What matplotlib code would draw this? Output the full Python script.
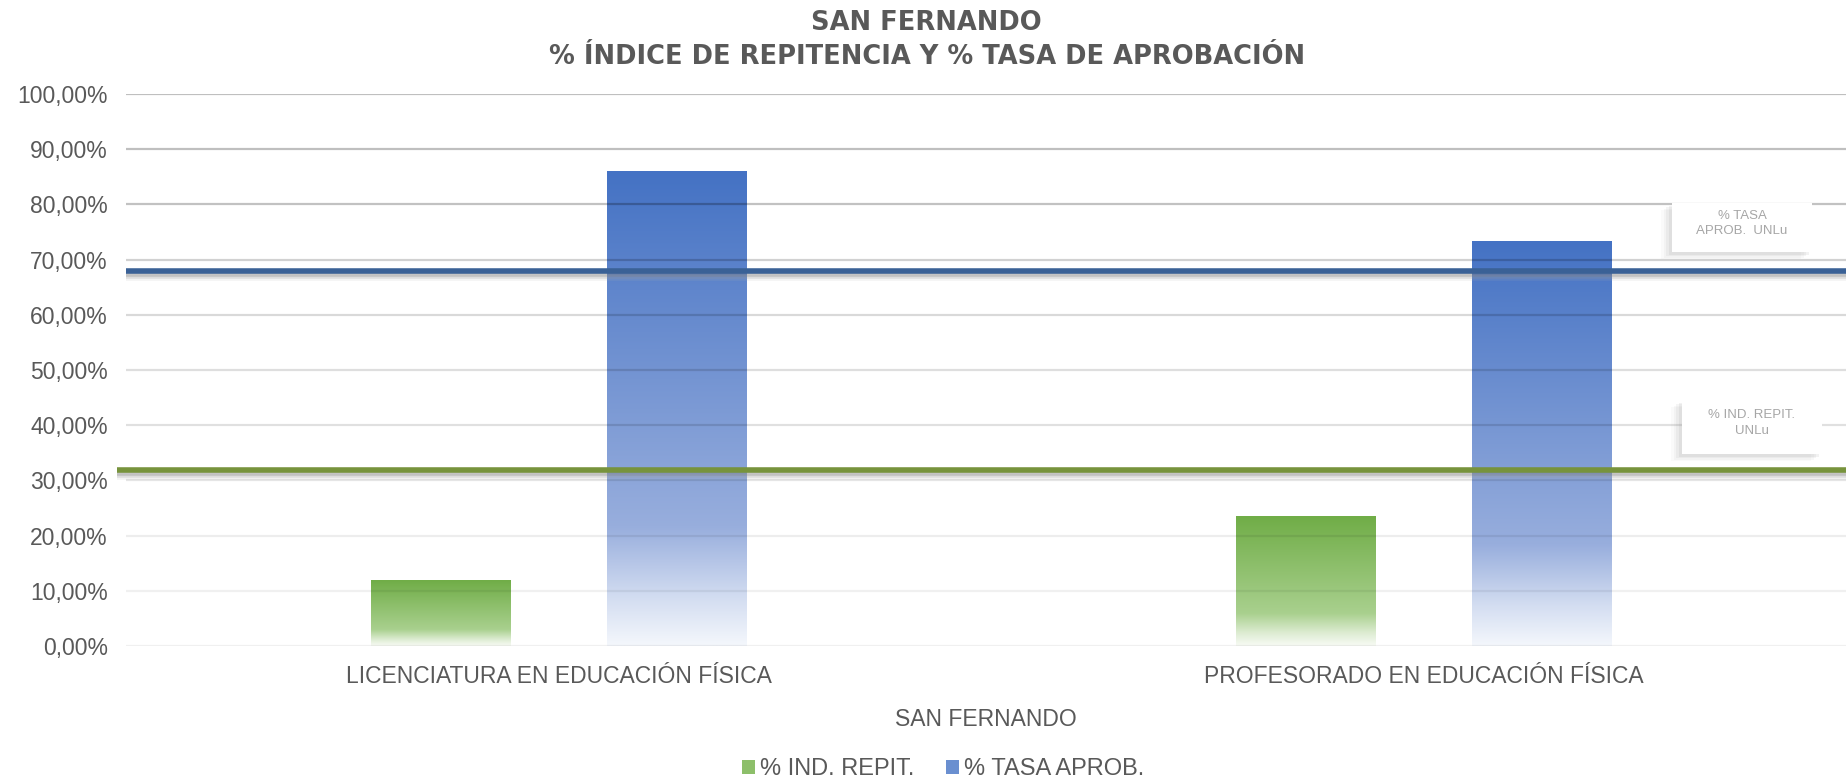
import matplotlib
matplotlib.use("Agg")
import matplotlib.pyplot as plt
import numpy as np
from matplotlib.colors import LinearSegmentedColormap
from matplotlib.patches import Rectangle
import matplotlib.patheffects as pe

plt.rcParams['font.family'] = ['Liberation Sans', 'DejaVu Sans']

# ---- data ----
categories = ['LICENCIATURA EN EDUCACIÓN FÍSICA', 'PROFESORADO EN EDUCACIÓN FÍSICA']
series_names = ['% IND. REPIT.', '% TASA APROB.']
ind_repit = [0.118, 0.234]
tasa_aprob = [0.860, 0.732]
ref_tasa_unlu = 0.679
ref_repit_unlu = 0.319
ref_labels = ['% TASA\nAPROB.  UNLu', '% IND. REPIT.\nUNLu']
yticks = [0.0, 0.1, 0.2, 0.3, 0.4, 0.5, 0.6, 0.7, 0.8, 0.9, 1.0]
title = 'SAN FERNANDO\n% ÍNDICE DE REPITENCIA Y % TASA DE APROBACIÓN'
xlabel = 'SAN FERNANDO'

TXT = '#595959'
FS = 16.5
green_cmap = LinearSegmentedColormap.from_list(
    'g', [(0.0, '#F8FBF5'), (0.1, '#DDECD2'), (0.25, '#A9D08E'), (1.0, '#70AD47')])
blue_cmap = LinearSegmentedColormap.from_list(
    'b', [(0.0, '#F4F7FC'), (0.1, '#D3DDF1'), (0.25, '#98AEDD'), (1.0, '#4472C4')])

W, H = 1846, 782
fig = plt.figure(figsize=(W / 100, H / 100), dpi=100)
ax = fig.add_axes([126 / W, 1 - 646 / H, (W - 126) / W, (646 - 94) / H])

x = np.arange(len(categories))
bw = 0.161
off = 0.136
grad = np.linspace(0, 1, 256).reshape(-1, 1)
for vals, cmap, o in [(ind_repit, green_cmap, -off), (tasa_aprob, blue_cmap, off)]:
    for xi, v in zip(x, vals):
        ax.imshow(grad, cmap=cmap, origin='lower', aspect='auto',
                  extent=[xi + o - bw / 2, xi + o + bw / 2, 0, v], zorder=2,
                  interpolation='bilinear')

# gridlines (fading towards the bottom, drawn over bars)
grid_alpha = [0.06, 0.06, 0.07, 0.1, 0.12, 0.13, 0.15, 0.18, 0.24, 0.25, 0.25]
for yv, a in zip(yticks, grid_alpha):
    ax.axhline(yv, color='black', alpha=a, lw=1.6, zorder=3)

# reference lines with soft shadow
shadow = [pe.SimpleLineShadow(offset=(0, -2), shadow_color='#707070', alpha=0.3),
          pe.SimpleLineShadow(offset=(0, -3.5), shadow_color='#909090', alpha=0.22),
          pe.SimpleLineShadow(offset=(0, -5), shadow_color='#b0b0b0', alpha=0.15),
          pe.Normal()]
ax.plot([-0.5, 1.6], [ref_tasa_unlu, ref_tasa_unlu], color='#3A6196', lw=4,
        zorder=4, solid_capstyle='butt', path_effects=shadow, clip_on=False)
ax.plot([-0.51, 1.6], [ref_repit_unlu, ref_repit_unlu], color='#77933C', lw=4,
        zorder=4, solid_capstyle='butt', path_effects=shadow, clip_on=False)

ax.set_xlim(-0.5, 1.488)
ax.set_ylim(0, 1.0)
ax.set_yticks(yticks)
ax.set_yticklabels([f'{v*100:.2f}%'.replace('.', ',') for v in yticks])
ax.set_xticks(x)
ax.set_xticklabels(categories)
ax.tick_params(axis='both', length=0, labelsize=FS, colors=TXT)
ax.tick_params(axis='y', pad=13)
ax.tick_params(axis='x', pad=13.5)
for s in ax.spines.values():
    s.set_visible(False)
ax.set_xlabel(xlabel, fontsize=FS, color=TXT, labelpad=14.5)

fig.text(0.502, 1 - 40 / H, title, ha='center', va='center', fontsize=18.5,
         fontweight='bold', color=TXT, linespacing=1.42,
         family=['DejaVu Sans'])

# reference labels (white boxes with soft shadow)
box_fx = [(1672, 203, 140, 49), (1682, 400, 140, 54)]
box_shadow = [pe.SimplePatchShadow(offset=(-2, -2), shadow_rgbFace='#808080', alpha=0.10),
              pe.SimplePatchShadow(offset=(-4, -3), shadow_rgbFace='#808080', alpha=0.08),
              pe.SimplePatchShadow(offset=(-6, -4), shadow_rgbFace='#909090', alpha=0.06),
              pe.SimplePatchShadow(offset=(-8, -5), shadow_rgbFace='#a0a0a0', alpha=0.05),
              pe.Normal()]
for (bx, by, bwid, bh), lab in zip(box_fx, ref_labels):
    r = Rectangle((bx / W, 1 - (by + bh) / H), bwid / W, bh / H, transform=fig.transFigure,
                  facecolor='white', edgecolor='none', zorder=5, path_effects=box_shadow)
    fig.add_artist(r)
    fig.text((bx + bwid / 2) / W, 1 - (by + bh / 2 - 4) / H, lab, ha='center', va='center',
             fontsize=9.5, color='#A6A6A6', zorder=6, linespacing=1.35)

# legend
handles = [Rectangle((0, 0), 1, 1, facecolor='#8DBF6A', edgecolor='none'),
           Rectangle((0, 0), 1, 1, facecolor='#6A8FD0', edgecolor='none')]
fig.legend(handles, series_names, loc='center', bbox_to_anchor=(0.511, 1 - 769 / H),
           ncol=2, frameon=False, fontsize=17, labelcolor=TXT, handlelength=0.55,
           handleheight=0.55, handletextpad=0.2, columnspacing=1.35)

fig.savefig('out.png', dpi=100, facecolor='white')
